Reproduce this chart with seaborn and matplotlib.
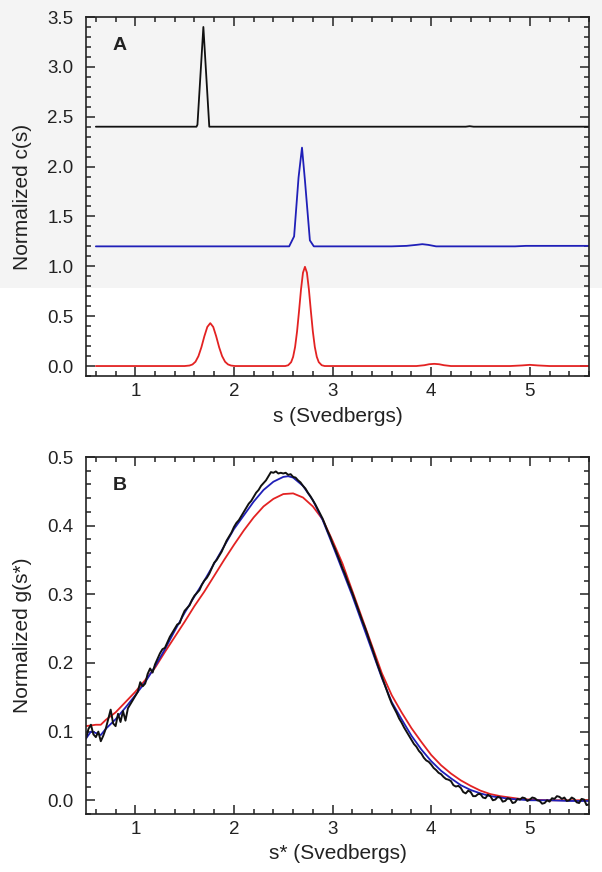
import numpy as np
import matplotlib
matplotlib.use("Agg")
import matplotlib.pyplot as plt
from matplotlib.patches import Rectangle
from matplotlib.ticker import MultipleLocator
import seaborn as sns

# ---- panel A: c(s) distributions (offset traces) ----
a_black_s = [0.60, 1.00, 1.50, 1.62, 1.63, 1.69, 1.75, 2.00, 3.00, 4.00, 4.35, 4.39, 4.43, 5.00, 5.60]
a_black_c = [2.40, 2.40, 2.40, 2.40, 2.42, 3.40, 2.40, 2.40, 2.40, 2.40, 2.40, 2.405, 2.40, 2.40, 2.40]

a_blue_s = [0.60, 1.00, 2.00, 2.50, 2.56, 2.61, 2.655, 2.69, 2.72, 2.77, 2.81, 3.00, 3.60,
            3.75, 3.85, 3.91, 3.97, 4.05, 4.50, 4.85, 4.96, 5.10, 5.60]
a_blue_c = [1.20, 1.20, 1.20, 1.20, 1.20, 1.30, 1.89, 2.19, 1.86, 1.26, 1.20, 1.20, 1.20,
            1.205, 1.215, 1.222, 1.215, 1.20, 1.20, 1.20, 1.205, 1.205, 1.205]

a_red_s = [0.60, 1.00, 1.50, 1.55, 1.58, 1.61, 1.64, 1.67, 1.70, 1.73, 1.76, 1.79, 1.82, 1.85,
           1.88, 1.91, 1.94, 1.97, 2.01, 2.10, 2.40, 2.52, 2.55, 2.58, 2.60, 2.62, 2.64, 2.66,
           2.68, 2.70, 2.72, 2.74, 2.76, 2.78, 2.80, 2.82, 2.84, 2.86, 2.89, 2.92, 3.00, 3.50,
           3.85, 3.93, 3.98, 4.03, 4.08, 4.13, 4.20, 4.80, 4.92, 5.00, 5.08, 5.20, 5.60]
a_red_c = [0.0, 0.0, 0.0, 0.005, 0.016, 0.043, 0.099, 0.188, 0.298, 0.392, 0.430, 0.392, 0.298, 0.188,
           0.099, 0.043, 0.016, 0.005, 0.0, 0.0, 0.0, 0.0, 0.008, 0.039, 0.092, 0.191, 0.347, 0.551,
           0.768, 0.936, 0.995, 0.936, 0.768, 0.551, 0.347, 0.191, 0.092, 0.039, 0.008, 0.0, 0.0, 0.0,
           0.0, 0.008, 0.018, 0.022, 0.018, 0.008, 0.0, 0.0, 0.006, 0.012, 0.006, 0.0, 0.0]

# ---- panel B: g(s*) distributions ----
b_blue_s = [0.50, 0.55, 0.60, 0.65, 0.70, 0.80, 0.90, 1.00, 1.10, 1.20, 1.30, 1.40, 1.50, 1.60,
            1.70, 1.80, 1.90, 2.00, 2.10, 2.20, 2.30, 2.40, 2.50, 2.55, 2.60, 2.70, 2.80, 2.90,
            3.00, 3.10, 3.20, 3.30, 3.40, 3.50, 3.60, 3.70, 3.80, 3.90, 4.00, 4.10, 4.20, 4.30,
            4.40, 4.50, 4.60, 4.70, 4.80, 4.90, 5.00, 5.20, 5.40, 5.60]
b_blue_g = [0.090, 0.100, 0.098, 0.095, 0.104, 0.118, 0.135, 0.153, 0.172, 0.195, 0.220, 0.247, 0.273, 0.297,
            0.320, 0.345, 0.370, 0.395, 0.415, 0.435, 0.452, 0.464, 0.471, 0.472, 0.470, 0.458, 0.437, 0.408,
            0.372, 0.335, 0.298, 0.258, 0.218, 0.178, 0.143, 0.118, 0.094, 0.074, 0.057, 0.043, 0.032, 0.022,
            0.015, 0.010, 0.006, 0.004, 0.002, 0.001, 0.000, 0.000, -0.001, -0.001]

b_red_s = [0.50, 0.60, 0.65, 0.70, 0.80, 0.90, 1.00, 1.10, 1.20, 1.30, 1.40, 1.50, 1.60, 1.70,
           1.80, 1.90, 2.00, 2.10, 2.20, 2.30, 2.40, 2.50, 2.60, 2.70, 2.80, 2.90, 3.00, 3.10,
           3.20, 3.30, 3.40, 3.50, 3.60, 3.70, 3.80, 3.90, 4.00, 4.10, 4.20, 4.30, 4.40, 4.50,
           4.60, 4.70, 4.80, 4.90, 5.00, 5.20, 5.40, 5.60]
b_red_g = [0.108, 0.110, 0.110, 0.117, 0.128, 0.143, 0.158, 0.175, 0.193, 0.216, 0.238, 0.260, 0.283, 0.304,
           0.327, 0.350, 0.372, 0.393, 0.412, 0.428, 0.439, 0.446, 0.447, 0.441, 0.428, 0.409, 0.378, 0.345,
           0.305, 0.265, 0.225, 0.185, 0.153, 0.128, 0.105, 0.085, 0.066, 0.051, 0.039, 0.029, 0.021, 0.014,
           0.009, 0.006, 0.004, 0.002, 0.001, 0.000, 0.000, 0.000]

# black trace sampled every 0.025 S from 0.500 to 5.600
b_black_s = np.round(np.arange(0.500, 5.6001, 0.025), 3)
b_black_g = [
    0.090, 0.104, 0.110, 0.096, 0.092, 0.100, 0.086, 0.094,   # 0.500
    0.104, 0.118, 0.132, 0.112, 0.108, 0.126, 0.114, 0.130,   # 0.700
    0.116, 0.134, 0.140, 0.146, 0.152, 0.158, 0.172, 0.166,   # 0.900
    0.170, 0.184, 0.192, 0.186, 0.198, 0.206, 0.214, 0.220,   # 1.100
    0.222, 0.230, 0.238, 0.244, 0.250, 0.256, 0.258, 0.268,   # 1.300
    0.276, 0.280, 0.284, 0.292, 0.298, 0.302, 0.306, 0.314,   # 1.500
    0.320, 0.324, 0.330, 0.338, 0.346, 0.350, 0.356, 0.362,   # 1.700
    0.370, 0.378, 0.384, 0.390, 0.398, 0.404, 0.408, 0.414,   # 1.900
    0.420, 0.426, 0.432, 0.436, 0.442, 0.448, 0.452, 0.458,   # 2.100
    0.462, 0.466, 0.472, 0.478, 0.477, 0.479, 0.476, 0.477,   # 2.300
    0.476, 0.477, 0.474, 0.475, 0.471, 0.470, 0.466, 0.463,   # 2.500
    0.458, 0.454, 0.448, 0.443, 0.437, 0.431, 0.424, 0.417,   # 2.700
    0.410, 0.401, 0.392, 0.384, 0.374, 0.366, 0.357, 0.348,   # 2.900
    0.338, 0.330, 0.320, 0.311, 0.302, 0.292, 0.282, 0.272,   # 3.100
    0.262, 0.253, 0.243, 0.232, 0.222, 0.211, 0.200, 0.190,   # 3.300
    0.180, 0.170, 0.160, 0.150, 0.141, 0.134, 0.127, 0.119,   # 3.500
    0.113, 0.106, 0.100, 0.094, 0.088, 0.082, 0.078, 0.072,   # 3.700
    0.068, 0.062, 0.058, 0.056, 0.052, 0.047, 0.044, 0.040,   # 3.900
    0.038, 0.034, 0.031, 0.030, 0.028, 0.022, 0.020, 0.021,   # 4.100
    0.018, 0.012, 0.010, 0.014, 0.012, 0.006, 0.006, 0.009,   # 4.300
    0.009, 0.004, 0.003, 0.008, 0.006, 0.000, 0.001, 0.005,   # 4.500
    0.004, -0.002, -0.001, 0.003, 0.002, -0.004, -0.003, 0.002,   # 4.700
    0.001, 0.004, 0.003, -0.001, 0.001, 0.004, 0.003, 0.000,   # 4.900
    -0.001, -0.005, -0.004, 0.000, -0.002, 0.003, 0.002, 0.006,   # 5.100
    0.005, 0.002, 0.004, -0.001, 0.000, 0.004, 0.002, -0.003,   # 5.300
    -0.004, 0.002, 0.001, -0.007, -0.006,                       # 5.500
]

black = "#111111"
blue = "#1f1fb8"
red = "#e32222"
txt = "#222222"

sns.set_theme(style="ticks")
plt.rcParams["font.family"] = ["Liberation Sans", "DejaVu Sans"]

fig = plt.figure(figsize=(6.02, 8.72), dpi=100)
fig.patch.set_facecolor("white")
# light grey band behind the top of the page
fig.patches.append(Rectangle((0, 1 - 288 / 872), 1, 288 / 872, transform=fig.transFigure,
                             facecolor="#f4f4f4", edgecolor="none", zorder=-10))

ax1 = fig.add_axes([86 / 602, 1 - 376 / 872, 503 / 602, 359 / 872])
ax2 = fig.add_axes([86 / 602, 1 - 814 / 872, 503 / 602, 357 / 872])

lw = 1.3
sns.lineplot(x=a_black_s, y=a_black_c, color=black, lw=lw, sort=False, estimator=None, ax=ax1)
sns.lineplot(x=a_blue_s, y=a_blue_c, color=blue, lw=lw, sort=False, estimator=None, ax=ax1)
sns.lineplot(x=a_red_s, y=a_red_c, color=red, lw=lw, sort=False, estimator=None, ax=ax1)

sns.lineplot(x=b_red_s, y=b_red_g, color=red, lw=lw, sort=False, estimator=None, ax=ax2)
sns.lineplot(x=b_blue_s, y=b_blue_g, color=blue, lw=lw, sort=False, estimator=None, ax=ax2)
sns.lineplot(x=b_black_s, y=b_black_g, color=black, lw=1.4, sort=False, estimator=None, ax=ax2)

ax1.set_xlim(0.5, 5.6)
ax1.set_ylim(-0.1, 3.5)
ax1.yaxis.set_major_locator(MultipleLocator(0.5))
ax1.yaxis.set_minor_locator(MultipleLocator(0.1))
ax1.set_xlabel("s (Svedbergs)")
ax1.set_ylabel("Normalized c(s)")

ax2.set_xlim(0.5, 5.6)
ax2.set_ylim(-0.02, 0.5)
ax2.yaxis.set_major_locator(MultipleLocator(0.1))
ax2.yaxis.set_minor_locator(MultipleLocator(0.02))
ax2.set_xlabel("s* (Svedbergs)")
ax2.set_ylabel("Normalized g(s*)")

for ax, tag in [(ax1, "A"), (ax2, "B")]:
    ax.set_facecolor("none")
    ax.xaxis.set_major_locator(MultipleLocator(1))
    ax.xaxis.set_minor_locator(MultipleLocator(0.2))
    ax.tick_params(which="both", direction="in", top=True, right=True, width=1.1, color=txt,
                   labelsize=13.5, labelcolor=txt)
    ax.tick_params(which="major", length=6.5)
    ax.tick_params(which="minor", length=3.8)
    ax.tick_params(axis="x", which="major", pad=5)
    ax.tick_params(axis="y", which="major", pad=9)
    for sp in ax.spines.values():
        sp.set_visible(True)
        sp.set_linewidth(1.2)
        sp.set_color(txt)
    ax.xaxis.label.set_size(15)
    ax.yaxis.label.set_size(15)
    ax.xaxis.label.set_color(txt)
    ax.yaxis.label.set_color(txt)
    ax.text(0.053, 0.92, tag, transform=ax.transAxes, fontsize=14, fontweight="bold",
            color=txt, va="center", ha="left")

ax1.yaxis.set_label_coords(-0.108, 0.5)
ax2.yaxis.set_label_coords(-0.108, 0.5)
ax1.xaxis.set_label_coords(0.5, -0.085)
ax2.xaxis.set_label_coords(0.5, -0.085)

fig.savefig("out.png", dpi=100, facecolor=fig.get_facecolor())
